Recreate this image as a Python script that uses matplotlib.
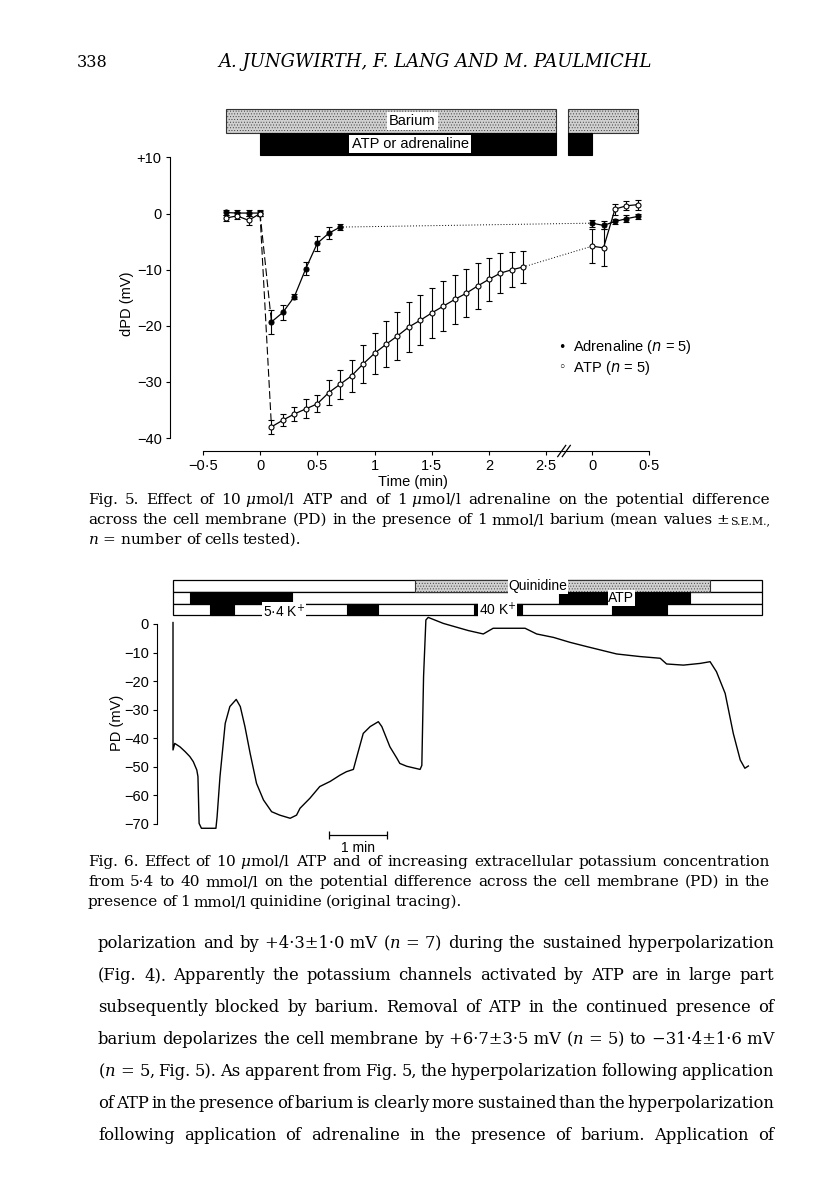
import matplotlib
matplotlib.use('Agg')
import matplotlib.pyplot as plt
import matplotlib.transforms as mtransforms
from matplotlib.patches import Rectangle

# ---- Fig. 5 data (time in min, dPD in mV, mean +- s.e.m.) ----
pre_t = [-0.3, -0.2, -0.1, 0.0]
adr_pre = [0.2, 0.1, 0.1, 0.1]
adr_pre_err = [0.5, 0.6, 0.5, 0.5]
atp_pre = [-0.8, -0.4, -1.2, 0.0]
atp_pre_err = [0.6, 0.6, 0.8, 0.4]

adr_t = [0.1, 0.2, 0.3, 0.4, 0.5, 0.6, 0.7]
adr_pd = [-19.3, -17.6, -14.8, -9.8, -5.3, -3.5, -2.4]
adr_err = [2.1, 1.3, 0.5, 1.1, 1.3, 1.1, 0.6]

atp_t = [0.1, 0.2, 0.3, 0.4, 0.5, 0.6, 0.7, 0.8, 0.9, 1.0, 1.1, 1.2,
         1.3, 1.4, 1.5, 1.6, 1.7, 1.8, 1.9, 2.0, 2.1, 2.2, 2.3]
atp_pd = [-38.0, -36.8, -35.7, -34.8, -33.9, -31.9, -30.4, -28.9, -26.8,
          -24.9, -23.3, -21.8, -20.2, -19.0, -17.7, -16.5, -15.3, -14.2,
          -12.9, -11.7, -10.6, -10.0, -9.5]
atp_err = [1.2, 1.1, 1.3, 1.7, 1.5, 2.2, 2.6, 2.8, 3.3, 3.7, 4.1, 4.2,
           4.5, 4.5, 4.4, 4.5, 4.4, 4.3, 4.1, 3.8, 3.5, 3.1, 2.8]

wash_t = [0.0, 0.1, 0.2, 0.3, 0.4]
adr_wash = [-1.7, -2.1, -1.4, -0.9, -0.5]
adr_wash_err = [0.6, 0.7, 0.5, 0.6, 0.5]
atp_wash = [-5.8, -6.1, 0.8, 1.4, 1.6]
atp_wash_err = [3.0, 3.3, 1.0, 0.8, 0.9]

x_ticks = [-0.5, 0, 0.5, 1, 1.5, 2, 2.5]
wash_ticks = [0, 0.5]
y5_ticks = [10, 0, -10, -20, -30, -40]
y5_labels = ['+10', '0', '\u221210', '\u221220', '\u221230', '\u221240']

# ---- Fig. 6 data: original tracing (time in min, PD in mV) ----
trace_t = [0.0, 0.0, 0.03, 0.12, 0.21, 0.29, 0.35, 0.41, 0.43, 0.45, 0.49,
           0.74, 0.76, 0.81, 0.90, 0.98, 1.09, 1.16, 1.24, 1.33, 1.44, 1.56,
           1.70, 1.84, 2.02, 2.13, 2.19, 2.36, 2.53, 2.71, 2.88, 2.99, 3.11,
           3.17, 3.28, 3.40, 3.54, 3.60, 3.74, 3.86, 3.91, 4.03, 4.26, 4.29,
           4.32, 4.36, 4.40, 4.66, 5.09, 5.35, 5.52, 5.87, 6.07, 6.27, 6.56,
           6.84, 7.13, 7.65, 8.05, 8.40, 8.51, 8.80, 9.09, 9.26, 9.37, 9.52,
           9.66, 9.78, 9.86, 9.92]
trace_pd = [0.5, -44.1, -41.8, -43.0, -44.7, -46.4, -48.2, -51.1, -53.4,
            -69.8, -71.5, -71.5, -67.5, -53.4, -34.8, -28.9, -26.4, -28.9,
            -35.9, -45.3, -55.8, -61.6, -65.7, -66.9, -68.0, -66.9, -64.5,
            -61.0, -56.9, -55.1, -52.9, -51.7, -50.9, -46.4, -38.3, -35.9,
            -34.2, -35.9, -43.0, -47.0, -48.8, -49.8, -50.9, -49.5, -18.4,
            1.4, 2.3, 0.2, -2.3, -3.5, -1.5, -1.5, -1.5, -3.5, -4.7, -6.4,
            -7.9, -10.5, -11.4, -12.0, -14.0, -14.4, -13.8, -13.2, -16.7,
            -24.3, -38.3, -47.6, -50.5, -49.7]
y6_ticks = [0, -10, -20, -30, -40, -50, -60, -70]

# solution bars above Fig. 6 (start, end in min)
quin_on = (4.17, 9.26)
atp_on = [(0.29, 2.05), (6.66, 8.91)]
k40_on = [(0.64, 1.05), (3.0, 3.53), (5.19, 6.02), (7.57, 8.52)]

BREAK = 2.9  # plot offset of the wash-out time axis
W, H = 816, 1203
SANS = 'Liberation Sans'
SERIF = 'DejaVu Serif'

plt.rcParams['hatch.linewidth'] = 0.35
fig = plt.figure(figsize=(W / 100, H / 100), dpi=100)


def frac(px_left, px_top, px_right, px_bottom):
    return [px_left / W, 1 - px_bottom / H, (px_right - px_left) / W,
            (px_bottom - px_top) / H]


# ================= Fig. 5 =================
ax = fig.add_axes(frac(170, 157.5, 655.5, 451))
ax.set_xlim(-0.786, 3.454)
ax.set_ylim(-42.3, 10)
for s in ('top', 'right'):
    ax.spines[s].set_visible(False)
ax.spines['left'].set_bounds(-40, 10)
ax.spines['bottom'].set_bounds(-0.5, BREAK + 0.5)
for s in ('left', 'bottom'):
    ax.spines[s].set_linewidth(0.8)

wash_x = [BREAK + t for t in wash_t]
ekw = dict(color='black', lw=0.9, capsize=2, elinewidth=0.8, capthick=0.8,
           ms=3.6, mew=0.8)
for xs, ys, es, fc in [
        (pre_t, adr_pre, adr_pre_err, 'black'),
        (pre_t, atp_pre, atp_pre_err, 'white'),
        (adr_t, adr_pd, adr_err, 'black'),
        (atp_t, atp_pd, atp_err, 'white'),
        (wash_x, adr_wash, adr_wash_err, 'black'),
        (wash_x, atp_wash, atp_wash_err, 'white')]:
    ax.errorbar(xs, ys, yerr=es, fmt='-o', mfc=fc, mec='black', **ekw)

# dashed onset and dotted bridge across the break
ax.plot([pre_t[-1], adr_t[0]], [adr_pre[-1], adr_pd[0]], color='black',
        lw=0.8, dashes=(7, 3))
ax.plot([pre_t[-1], atp_t[0]], [atp_pre[-1], atp_pd[0]], color='black',
        lw=0.8, dashes=(7, 3))
ax.plot([adr_t[-1], wash_x[0]], [adr_pd[-1], adr_wash[0]], color='black',
        lw=0.7, ls=(0, (1, 2)))
ax.plot([atp_t[-1], wash_x[0]], [atp_pd[-1], atp_wash[0]], color='black',
        lw=0.7, ls=(0, (1, 2)))

ax.set_xticks(x_ticks + [BREAK + t for t in wash_ticks])
ax.set_xticklabels(['\u22120\u00b75', '0', '0\u00b75', '1', '1\u00b75', '2',
                    '2\u00b75', '0', '0\u00b75'])
ax.set_yticks(y5_ticks)
ax.set_yticklabels(y5_labels)
ax.tick_params(labelsize=10.5, length=3, width=0.8, pad=3)
for lab in ax.get_xticklabels() + ax.get_yticklabels():
    lab.set_family(SANS)
ax.set_xlabel('Time (min)', fontsize=10.5, family=SANS, labelpad=1)
ax.set_ylabel('dPD (mV)', fontsize=10.5, family=SANS, labelpad=2)

# break mark on the time axis
for dx in (0.0, 0.04):
    ax.plot([2.60 + dx, 2.67 + dx], [-43.3, -41.3], color='black', lw=0.9,
            clip_on=False)

# solution bars
tr = mtransforms.blended_transform_factory(ax.transData, ax.transAxes)
for x0, x1 in [(-0.3, 2.585), (2.69, 3.30)]:
    ax.add_patch(Rectangle((x0, 1.0835), x1 - x0, 0.0815, transform=tr,
                           clip_on=False, facecolor='#d0d0d0', hatch='......',
                           edgecolor='#333333', lw=0.8))
for x0, x1 in [(0.0, 2.585), (2.69, 2.9)]:
    ax.add_patch(Rectangle((x0, 1.0085), x1 - x0, 0.075, transform=tr,
                           clip_on=False, facecolor='black',
                           edgecolor='black', lw=0.8))
box = dict(facecolor='white', edgecolor='none', pad=1.5)
ax.text(1.33, 1.124, 'Barium', transform=tr, ha='center', va='center',
        fontsize=10.5, family=SANS, bbox=box)
ax.text(1.31, 1.046, 'ATP or adrenaline', transform=tr, ha='center',
        va='center', fontsize=10.5, family=SANS, bbox=box)

# key
ax.text(2.64, -23.8, '\u2022', ha='center', va='center', fontsize=9,
        family=['DejaVu Sans'])
ax.text(2.64, -27.5, '\u25e6', ha='center', va='center', fontsize=9,
        family=['DejaVu Sans'])
ax.text(2.73, -23.8, 'Adrenaline ($n$ = 5)', va='center', fontsize=10.5,
        family=SANS, math_fontfamily='dejavusans')
ax.text(2.73, -27.5, 'ATP ($n$ = 5)', va='center', fontsize=10.5,
        family=SANS, math_fontfamily='dejavusans')

# ================= Fig. 6 =================
ax6 = fig.add_axes(frac(157, 615.4, 782, 829.7))
ax6.set_xlim(-0.276, 10.5)
ax6.set_ylim(-72, 3)
for s in ('top', 'right', 'bottom'):
    ax6.spines[s].set_visible(False)
ax6.spines['left'].set_bounds(-70, 0)
ax6.spines['left'].set_linewidth(0.8)
ax6.set_xticks([])
ax6.set_yticks(y6_ticks)
ax6.set_yticklabels(['0'] + ['\u2212%d' % -v for v in y6_ticks[1:]])
ax6.tick_params(labelsize=10.5, length=3, width=0.8, pad=3)
for lab in ax6.get_yticklabels():
    lab.set_family(SANS)
ax6.set_ylabel('PD (mV)', fontsize=10.5, family=SANS, labelpad=0)
ax6.plot(trace_t, trace_pd, color='black', lw=1.0, clip_on=False)

# 1 min scale bar
ax6.errorbar([3.19], [-73.9], xerr=[0.5], color='black', lw=0.9, capsize=3,
             capthick=0.9, clip_on=False)
ax6.text(3.19, -75.8, '1 min', ha='center', va='top', fontsize=10,
         family=SANS)

tr6 = mtransforms.blended_transform_factory(ax6.transData, ax6.transAxes)
rows = [(1.109, 0.056), (1.053, 0.056), (1.002, 0.051)]
for y0, h in rows:
    ax6.add_patch(Rectangle((0, y0), 10.16, h, transform=tr6, clip_on=False,
                            facecolor='white', edgecolor='black', lw=0.9))
ax6.add_patch(Rectangle((quin_on[0], rows[0][0]), quin_on[1] - quin_on[0],
                        rows[0][1], transform=tr6, clip_on=False,
                        facecolor='#d0d0d0', hatch='......',
                        edgecolor='#333333', lw=0.8))
for x0, x1 in atp_on:
    ax6.add_patch(Rectangle((x0, rows[1][0]), x1 - x0, rows[1][1],
                            transform=tr6, clip_on=False, facecolor='black',
                            edgecolor='black', lw=0.8))
for x0, x1 in k40_on:
    ax6.add_patch(Rectangle((x0, rows[2][0]), x1 - x0, rows[2][1],
                            transform=tr6, clip_on=False, facecolor='black',
                            edgecolor='black', lw=0.8))
box6 = dict(facecolor='white', edgecolor='none', pad=0.6)
ax6.text(6.29, rows[0][0] + rows[0][1] / 2, 'Quinidine', transform=tr6,
         ha='center', va='center', fontsize=10, family=SANS, bbox=box6)
ax6.text(7.73, rows[1][0] + rows[1][1] / 2, 'ATP', transform=tr6,
         ha='center', va='center', fontsize=10, family=SANS, bbox=box6)
ax6.text(1.91, rows[2][0] + rows[2][1] / 2 - 0.01, '5\u00b74 K$^{+}$',
         transform=tr6, ha='center', va='center', fontsize=10, family=SANS,
         math_fontfamily='dejavusans', bbox=box6)
ax6.text(5.6, rows[2][0] + rows[2][1] / 2, '40 K$^{+}$', transform=tr6,
         ha='center', va='center', fontsize=10, family=SANS,
         math_fontfamily='dejavusans', bbox=box6)

# ================= page text =================
renderer = fig.canvas.get_renderer()


def text_width(txt, size):
    t = fig.text(0, 0, txt, fontsize=size, family=SERIF,
                 math_fontfamily='dejavuserif')
    w = t.get_window_extent(renderer).width
    t.remove()
    return w


def put_line(tokens, x0, x1, base, size, justify=True):
    """Place word tokens on one baseline, spread from x0 to x1 (pixels)."""
    pieces = []
    for tok in tokens:
        parts = tok if isinstance(tok, list) else [(tok, 1.0)]
        pieces.append([(txt, size * f, text_width(txt, size * f))
                       for txt, f in parts])
    widths = [sum(p[2] for p in objs) for objs in pieces]
    space = size * 0.32
    if justify and len(pieces) > 1:
        space = ((x1 - x0) - sum(widths)) / (len(pieces) - 1)
    x = x0
    for objs, w in zip(pieces, widths):
        xx = x
        for txt, sz, ww in objs:
            fig.text(xx / W, 1 - base / H, txt, fontsize=sz, family=SERIF,
                     va='baseline', math_fontfamily='dejavuserif')
            xx += ww
        x += w + space


def split(line):
    return [tk.replace('_', ' ') for tk in line.split(' ')]


fig.text(77 / W, 1 - 67 / H, '338', fontsize=11.5, family=SERIF,
         va='baseline')
fig.text(435 / W, 1 - 67 / H, 'A. JUNGWIRTH, F. LANG AND M. PAULMICHL',
         fontsize=13, family=SERIF, style='italic', va='baseline',
         ha='center')

CAP = 11
cap5 = [
    split('Fig. 5. Effect of 10_$\\mu$mol/l ATP and of 1_$\\mu$mol/l '
          'adrenaline on the potential difference'),
    split('across the cell membrane (PD) in the presence of 1 mmol/l barium '
          '(mean') + [[('values \u00b1', 1.0), ('S.E.M.,', 0.72)]],
    split('$n$_=_number of cells tested).'),
]
for i, ln in enumerate(cap5):
    put_line(ln, 88, 770, 504 + i * 20, CAP, justify=i < 2)

cap6 = [
    'Fig. 6. Effect of 10_$\\mu$mol/l ATP and of increasing extracellular '
    'potassium concentration',
    'from 5\u00b74 to 40 mmol/l on the potential difference across the cell '
    'membrane (PD) in the',
    'presence of 1 mmol/l quinidine (original tracing).',
]
for i, ln in enumerate(cap6):
    put_line(split(ln), 88, 770, 866 + i * 20, CAP, justify=i < 2)

body = [
    'polarization and by +4\u00b73\u00b11\u00b70_mV ($n$_=_7) during the '
    'sustained hyperpolarization',
    '(Fig. 4). Apparently the potassium channels activated by ATP are in '
    'large part',
    'subsequently blocked by barium. Removal of ATP in the continued '
    'presence of',
    'barium depolarizes the cell membrane by +6\u00b77\u00b13\u00b75_mV '
    '($n$_=_5) to \u221231\u00b74\u00b11\u00b76_mV',
    '($n$_=_5, Fig. 5). As apparent from Fig. 5, the hyperpolarization '
    'following application',
    'of ATP in the presence of barium is clearly more sustained than the '
    'hyperpolarization',
    'following application of adrenaline in the presence of barium. '
    'Application of',
]
for i, ln in enumerate(body):
    put_line(split(ln), 98, 774, 948 + i * 32, 11.8)

fig.savefig('out.png', dpi=100)
